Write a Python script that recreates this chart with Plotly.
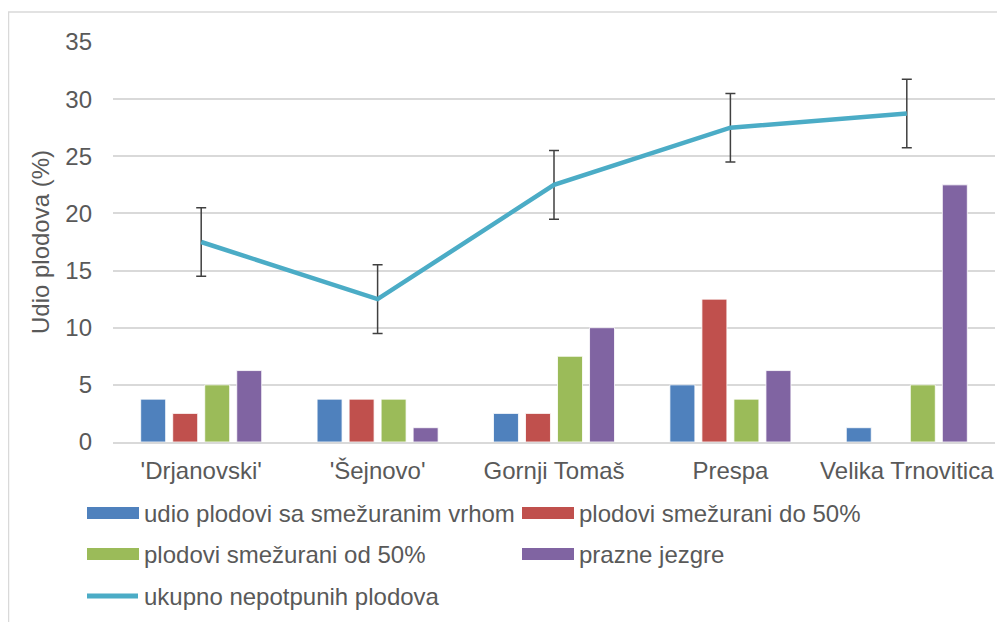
import plotly.graph_objects as go

categories = ["'Drjanovski'", "'Šejnovo'", "Gornji Tomaš", "Prespa", "Velika Trnovitica"]
series_names = ["udio plodovi sa smežuranim vrhom", "plodovi smežurani do 50%",
                "plodovi smežurani od 50%", "prazne jezgre"]
vrh = [3.75, 3.75, 2.5, 5.0, 1.25]
do50 = [2.5, 3.75, 2.5, 12.5, 0.0]
od50 = [5.0, 3.75, 7.5, 3.75, 5.0]
prazne = [6.25, 1.25, 10.0, 6.25, 22.5]
line_name = "ukupno nepotpunih plodova"
ukupno = [17.5, 12.5, 22.5, 27.5, 28.75]
ukupno_err = [3.0, 3.0, 3.0, 3.0, 3.0]
y_ticks = [0, 5, 10, 15, 20, 25, 30, 35]

bar_colors = ["#4f81bd", "#c0504d", "#9bbb59", "#8064a2"]
line_color = "#4bacc6"
FONT = "Arial, Liberation Sans, sans-serif"
TXT = "#595959"

fig = go.Figure()
for name, vals, col in zip(series_names, [vrh, do50, od50, prazne], bar_colors):
    fig.add_trace(go.Bar(x=categories, y=vals, name=name, marker_color=col,
                         marker_line=dict(color="rgba(255,255,255,0.8)", width=1),
                         showlegend=False))
fig.add_trace(go.Scatter(x=categories, y=ukupno, name=line_name, mode="lines",
                         line=dict(color=line_color, width=4.5),
                         error_y=dict(type="data", array=ukupno_err, visible=True,
                                      color="#404040", thickness=1.5, width=5),
                         showlegend=False))

# page is offset by 8px body margin; work in page pixels
OFF = 8
W, H = 997, 614
L, T = 113 - OFF, 42 - OFF
R = W - (995 - OFF)
B = H - (442 - OFF)
pw, ph = W - L - R, H - T - B
def px(x):
    return (x - OFF - L) / pw
def py(y):
    return (H - B - (y - OFF)) / ph

shapes = [dict(type="rect", xref="paper", yref="paper", x0=px(8.5), x1=px(1100), y0=py(12), y1=py(700),
               line=dict(color="#d9d9d9", width=1.5), fillcolor="rgba(0,0,0,0)", layer="below")]
annotations = []
legend_items = [(series_names[0], bar_colors[0], 87, 513), (series_names[1], bar_colors[1], 522, 513),
                (series_names[2], bar_colors[2], 87, 554), (series_names[3], bar_colors[3], 522, 554)]
for name, col, x, y in legend_items:
    shapes.append(dict(type="rect", xref="paper", yref="paper", x0=px(x), x1=px(x + 52),
                       y0=py(y - 6), y1=py(y + 6), fillcolor=col, line=dict(width=0)))
    annotations.append(dict(xref="paper", yref="paper", x=px(x + 55), y=py(y), text=name,
                            showarrow=False, xanchor="left", yanchor="middle",
                            font=dict(family=FONT, size=24, color=TXT)))
shapes.append(dict(type="line", xref="paper", yref="paper", x0=px(87), x1=px(138),
                   y0=py(596), y1=py(596), line=dict(color=line_color, width=5)))
annotations.append(dict(xref="paper", yref="paper", x=px(142), y=py(596), text=line_name,
                        showarrow=False, xanchor="left", yanchor="middle",
                        font=dict(family=FONT, size=24, color=TXT)))

fig.update_layout(
    width=W, height=H, margin=dict(l=L, r=R, t=T, b=B, autoexpand=False),
    paper_bgcolor="white", plot_bgcolor="white",
    barmode="group", bargap=0.274, bargroupgap=0.22,
    font=dict(family=FONT, size=24, color=TXT),
    shapes=shapes, annotations=annotations,
    xaxis=dict(showgrid=False, showline=True, linecolor="#d9d9d9", linewidth=1.5,
               ticks="", tickfont=dict(size=24, color=TXT), ticklabelstandoff=6),
    yaxis=dict(range=[0, 35], tickvals=y_ticks, showgrid=True, gridcolor="#d9d9d9", gridwidth=1.5,
               zeroline=False, showline=False, ticks="", ticklabelstandoff=20,
               tickfont=dict(size=24, color=TXT),
               title=dict(text="Udio plodova (%)", font=dict(size=24, color=TXT), standoff=8)),
)
fig.write_html("out.html")
